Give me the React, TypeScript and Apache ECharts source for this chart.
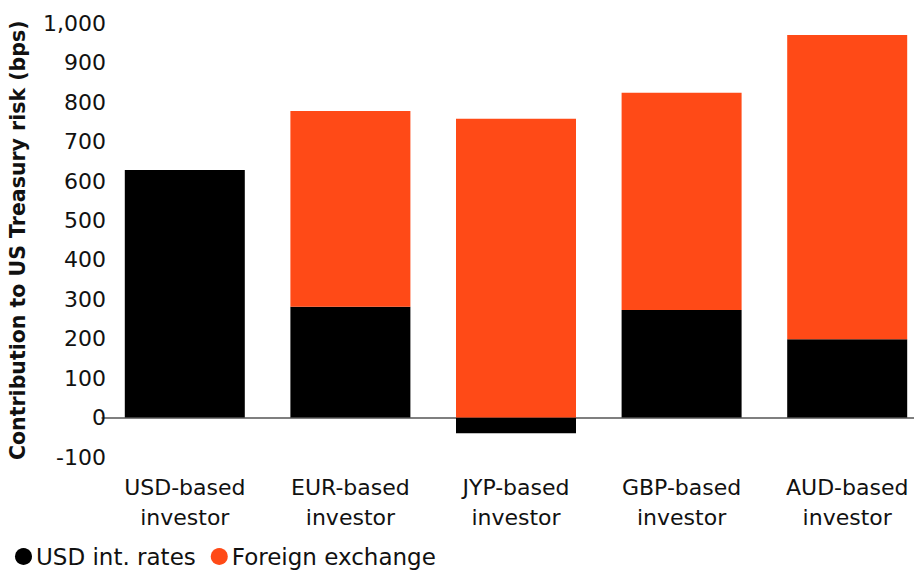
import React, { useEffect, useRef } from "react";
import * as echarts from "echarts";

const categories = [
  "USD-based\ninvestor",
  "EUR-based\ninvestor",
  "JYP-based\ninvestor",
  "GBP-based\ninvestor",
  "AUD-based\ninvestor",
];
const usdRates = [628, 281, -40, 273, 199];
const foreignExchange = [0, 497, 758, 551, 772];
const seriesNames = ["USD int. rates", "Foreign exchange"];
const yAxisName = "Contribution to US Treasury risk (bps)";

const FONT = "'DejaVu Sans', sans-serif";

export default function App() {
  const ref = useRef<HTMLDivElement>(null);
  useEffect(() => {
    if (!ref.current) return;
    const chart = echarts.init(ref.current, undefined, { renderer: "svg" });
    chart.setOption({
      animation: false,
      textStyle: { fontFamily: FONT },
      grid: { left: 102, right: -16, top: 23.5, bottom: 116, outerBoundsMode: "none", containLabel: false },
      legend: {
        left: 10,
        bottom: 0,
        icon: "circle",
        itemWidth: 17,
        itemHeight: 17,
        itemGap: 15,
        textStyle: { fontSize: 23, color: "#111", fontFamily: FONT, padding: [0, 0, 0, -1] },
        data: seriesNames,
      },
      xAxis: {
        type: "category",
        data: categories,
        axisLine: { onZero: true, lineStyle: { color: "#555", width: 1.5 } },
        axisTick: { show: false },
        axisLabel: {
          fontSize: 22,
          color: "#111",
          lineHeight: 30,
          margin: 15,
          fontFamily: FONT,
          interval: 0,
        },
      },
      yAxis: {
        type: "value",
        min: -100,
        max: 1000,
        interval: 100,
        name: yAxisName,
        nameLocation: "middle",
        nameGap: 74,
        nameTextStyle: { fontSize: 20.5, fontWeight: "bold", color: "#111", fontFamily: FONT },
        axisLine: { show: false },
        axisTick: { show: false },
        splitLine: { show: false },
        axisLabel: { fontSize: 22, color: "#111", margin: -4, fontFamily: FONT },
      },
      series: [
        {
          name: seriesNames[0],
          type: "bar",
          stack: "total",
          data: usdRates,
          barWidth: 120,
          itemStyle: { color: "#000000" },
        },
        {
          name: seriesNames[1],
          type: "bar",
          stack: "total",
          data: foreignExchange,
          barWidth: 120,
          itemStyle: { color: "#FF4A17" },
        },
      ],
    });
    return () => chart.dispose();
  }, []);
  return (
    <div
      ref={ref}
      style={{ position: "absolute", left: 0, top: 0, width: 914, height: 573 }}
    />
  );
}
